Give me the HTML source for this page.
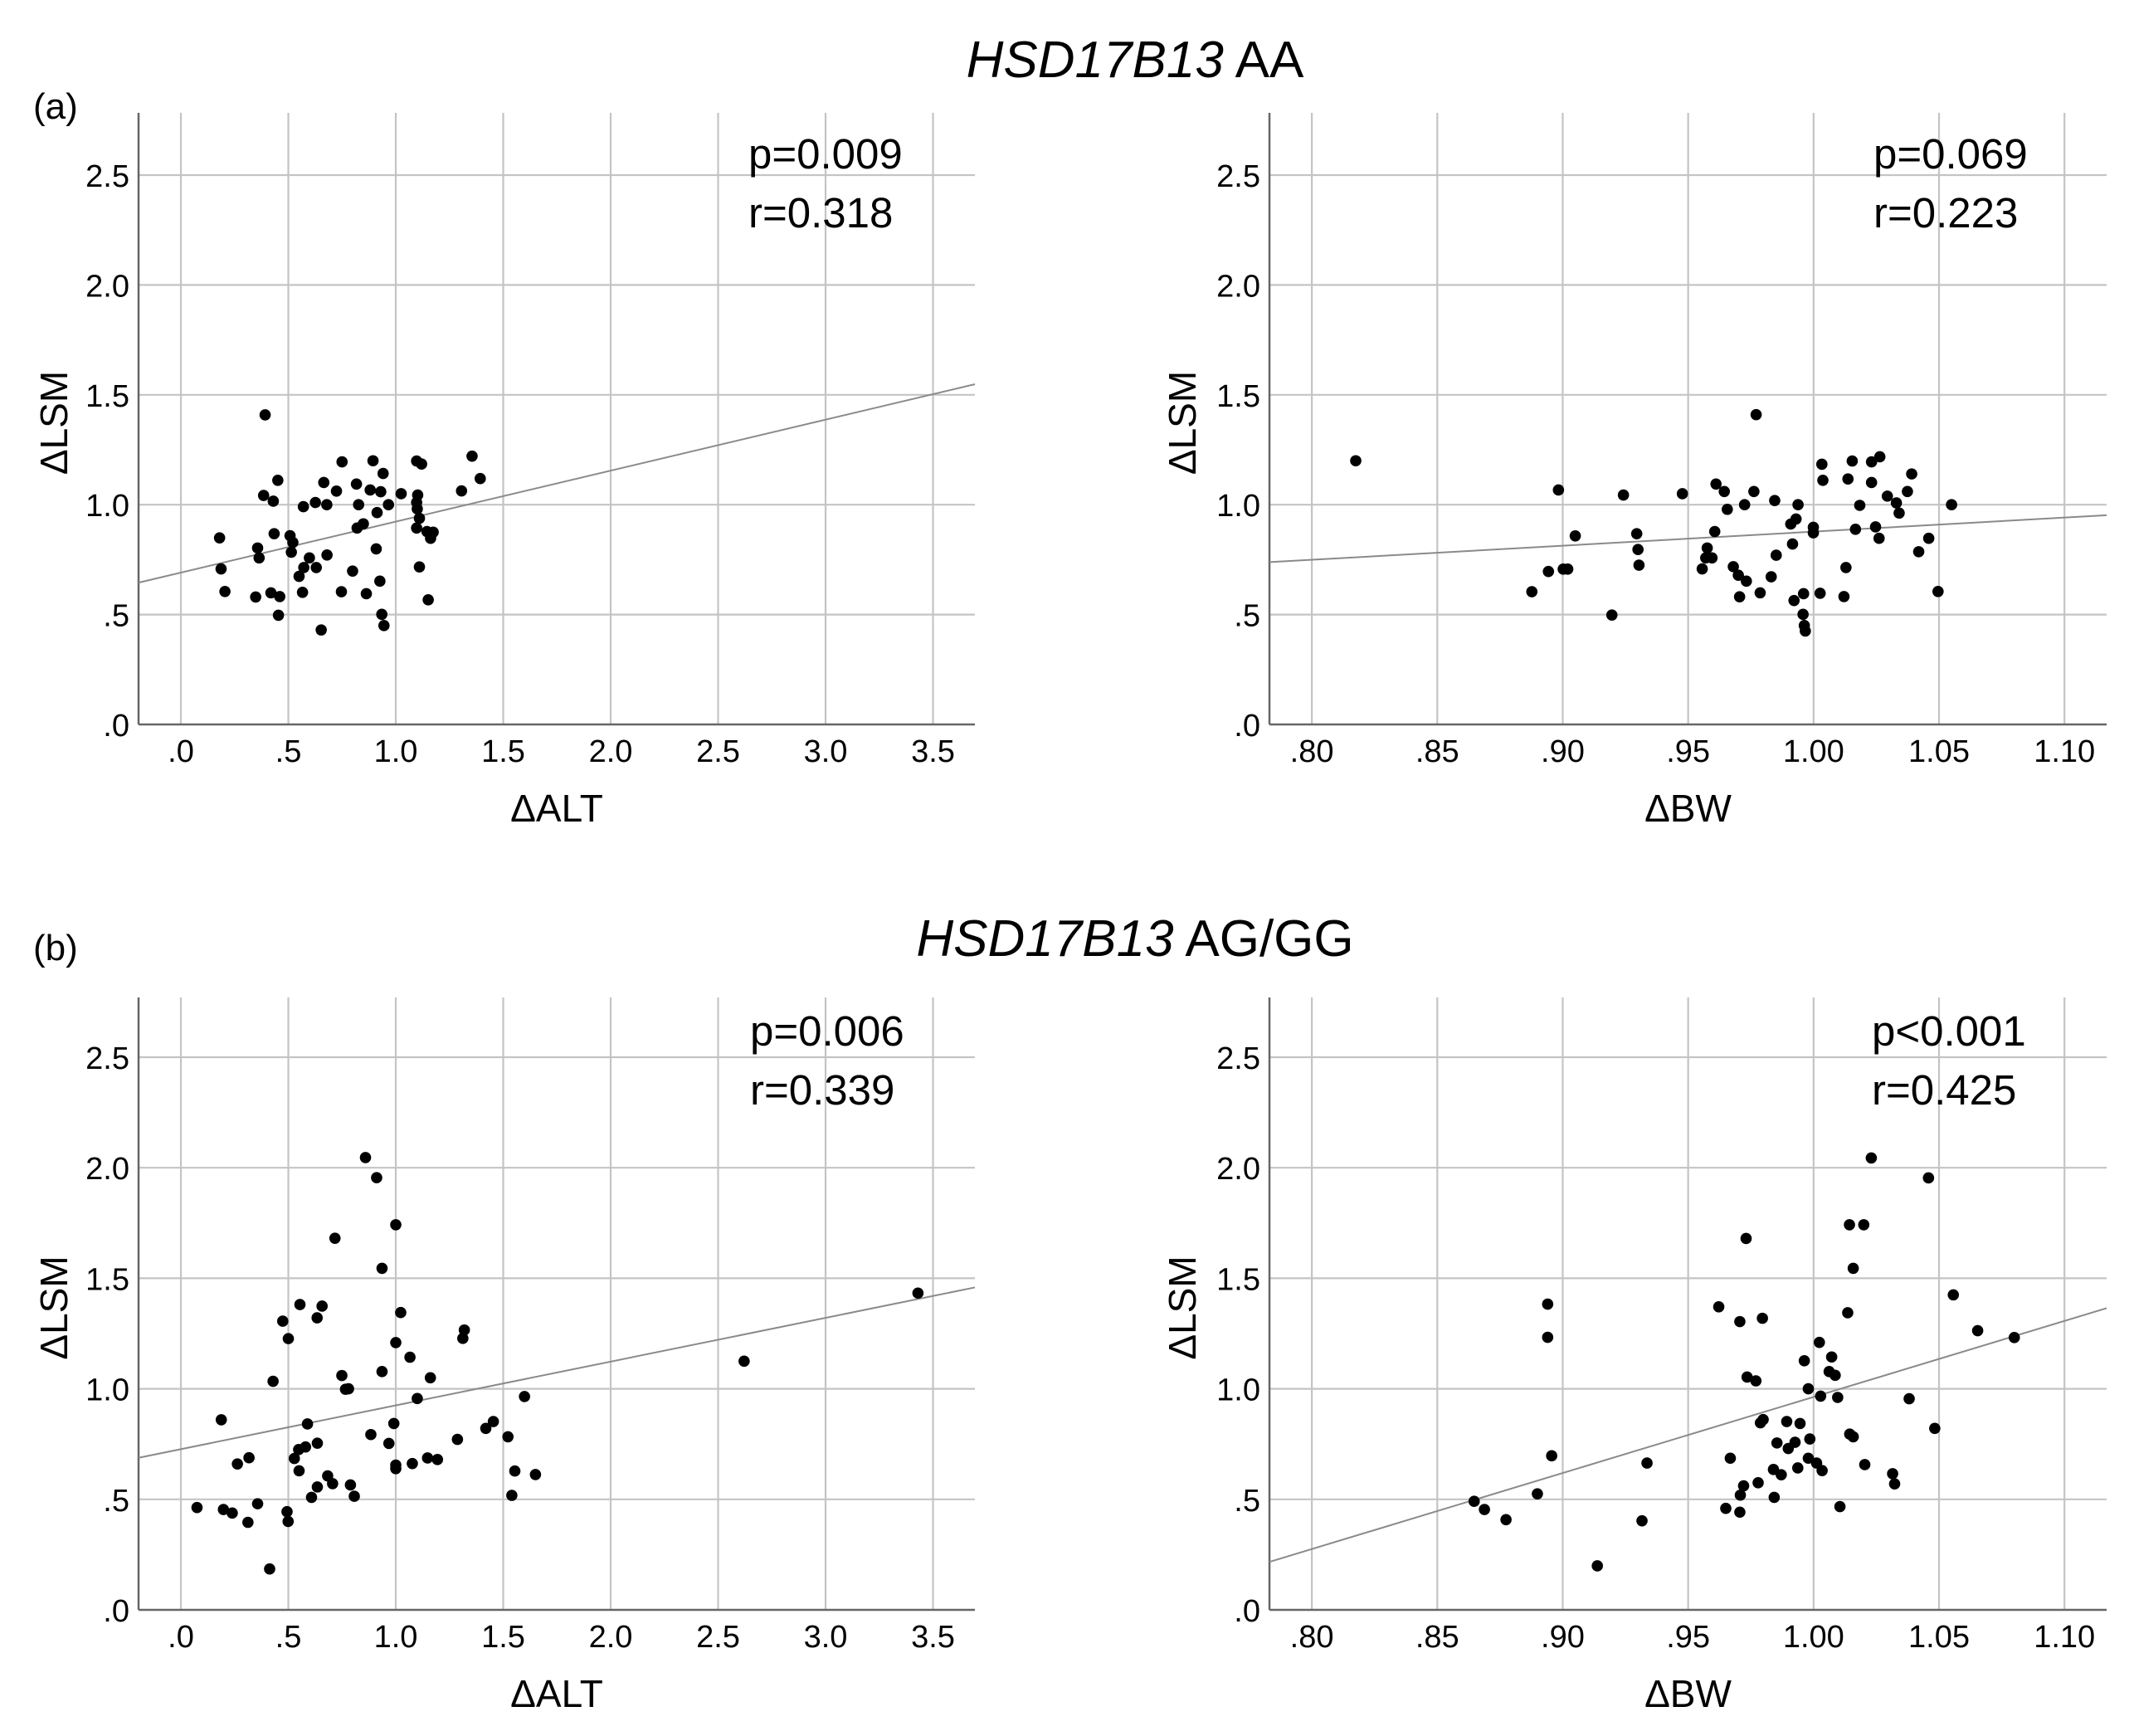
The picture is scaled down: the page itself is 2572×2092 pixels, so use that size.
<!DOCTYPE html>
<html>
<head>
<meta charset="utf-8">
<style>
html,body{margin:0;padding:0;background:#fff;}
svg{display:block;}
text{font-family:"Liberation Sans",Arial,sans-serif;fill:#000;}
</style>
</head>
<body>
<svg id="fig" xmlns="http://www.w3.org/2000/svg" width="2572" height="2092" viewBox="0 0 2572 2092">
  <rect x="0" y="0" width="2572" height="2092" fill="#fff"/>
  <text x="1368" y="93" font-size="62" text-anchor="middle"><tspan font-style="italic">HSD17B13</tspan> AA</text>
  <text x="1368" y="1152" font-size="62" text-anchor="middle"><tspan font-style="italic">HSD17B13</tspan> AG/GG</text>
  <text x="40" y="143" font-size="44">(a)</text>
  <text x="40" y="1157" font-size="44">(b)</text>
</svg>
<script>
// ---------- DATA ----------
const aAltX = [0.392,0.451,0.385,0.430,0.180,0.434,0.357,0.364,0.187,0.205,0.348,0.419,0.460,0.454,0.508,0.521,0.514,0.570,0.626,0.665,0.679,0.750,0.724,0.817,0.827,0.894,0.941,0.881,0.930,0.966,0.913,0.820,0.849,1.025,1.097,1.120,1.102,1.097,1.100,1.110,1.097,1.145,1.174,1.162,1.110,1.151,1.306,1.355,1.393,0.598,0.572,0.550,0.630,0.680,0.799,0.909,0.926,0.566,0.747,0.863,0.935,0.945,0.653];
const aAltY = [1.409,1.111,1.042,1.016,0.849,0.868,0.803,0.758,0.708,0.605,0.580,0.599,0.582,0.497,0.859,0.828,0.784,0.991,1.010,1.101,1.000,1.195,1.062,1.094,1.000,1.200,1.142,1.067,1.059,1.000,0.964,0.894,0.913,1.050,1.199,1.185,1.044,1.010,0.981,0.938,0.894,0.878,0.875,0.847,0.717,0.567,1.063,1.221,1.119,0.758,0.714,0.674,0.714,0.771,0.698,0.799,0.652,0.601,0.604,0.595,0.501,0.450,0.430];
const aBwX = [0.8175,0.8877,0.8943,0.8983,0.9002,0.902,0.905,0.9196,0.9242,0.9295,0.930,0.9304,0.9477,0.9611,0.9644,0.9656,0.9606,0.9576,0.957,0.9595,0.9556,0.968,0.970,0.9732,0.9705,0.9771,0.9762,0.9725,0.9787,0.9831,0.9851,0.9845,0.9938,0.9930,0.9909,0.9916,0.996,0.9922,0.9958,0.9963,0.9967,0.9999,0.9999,1.0026,1.0033,1.0037,1.0121,1.0129,1.0137,1.0154,1.0167,1.0184,1.0231,1.0264,1.0231,1.0247,1.0261,1.0294,1.0330,1.0341,1.0391,1.0374,1.0459,1.0419,1.0496,1.055];
const aBwY = [1.20,0.604,0.696,1.067,0.707,0.707,0.858,0.498,1.044,0.868,0.796,0.725,1.050,1.094,1.060,0.979,0.878,0.803,0.758,0.758,0.708,0.718,0.679,0.652,0.581,1.410,1.060,1.000,0.599,0.672,0.770,1.019,1.000,0.935,0.912,0.821,0.595,0.564,0.501,0.450,0.425,0.897,0.872,0.597,1.184,1.111,0.582,0.714,1.117,1.199,0.888,0.997,1.195,1.218,1.101,0.899,0.847,1.039,1.008,0.962,1.140,1.060,0.847,0.786,0.605,1.000];
const bAltX = [0.859,0.911,1.000,0.936,1.023,1.319,1.312,1.000,1.066,0.936,1.161,0.780,1.100,1.599,0.991,0.884,0.968,1.454,1.419,1.287,1.522,1.000,1.000,1.077,1.148,1.194,1.554,1.650,1.540,0.789,0.807,2.621,3.430,0.717,0.554,0.657,0.634,0.474,0.500,0.429,0.749,0.766,0.188,0.589,0.635,0.580,0.548,0.317,0.263,0.528,0.550,0.683,0.706,0.635,0.608,0.075,0.198,0.239,0.312,0.357,0.494,0.499,0.413];
const bAltY = [2.046,1.955,1.742,1.545,1.345,1.266,1.228,1.209,1.143,1.078,1.050,1.000,0.956,0.965,0.843,0.793,0.753,0.852,0.821,0.771,0.783,0.655,0.639,0.662,0.687,0.680,0.628,0.612,0.518,0.565,0.514,1.125,1.433,1.681,1.381,1.374,1.321,1.306,1.227,1.034,1.060,0.998,0.860,0.841,0.754,0.737,0.725,0.688,0.660,0.685,0.629,0.606,0.571,0.556,0.509,0.463,0.454,0.438,0.396,0.480,0.444,0.400,0.185];
const bBwX = [0.8647,0.8688,0.8774,0.8899,0.894,0.894,0.8956,0.9138,1.0230,1.0458,1.0143,1.0200,0.9731,1.0158,1.0557,0.9622,1.0136,0.9706,0.9796,1.0654,1.0023,1.0072,0.9963,1.0062,1.0086,0.9735,0.9770,0.9979,1.0028,1.0096,1.0381,0.9799,0.9788,0.9893,0.9946,1.0483,1.0144,1.0158,0.9985,0.9854,0.9926,0.9899,0.9336,0.9668,0.9979,1.0012,1.0034,0.9937,0.9840,0.9871,1.0204,1.0315,1.0323,0.9779,0.9721,0.9708,0.9843,0.9650,0.9706,1.0105,0.9316,1.080];
const bBwY = [0.491,0.454,0.408,0.525,1.383,1.233,0.697,0.199,2.044,1.954,1.742,1.742,1.680,1.545,1.425,1.371,1.344,1.304,1.319,1.263,1.210,1.144,1.127,1.078,1.061,1.053,1.036,1.000,0.967,0.961,0.955,0.861,0.846,0.852,0.843,0.821,0.795,0.783,0.773,0.755,0.758,0.730,0.664,0.686,0.686,0.664,0.630,0.642,0.635,0.611,0.657,0.616,0.570,0.575,0.561,0.519,0.509,0.459,0.442,0.467,0.403,1.232];
const fitIntercepts = [0.691, 0.80, 0.727, 0.638];
const fitSlopes = [0.232, 0.64, 0.198, 3.44];
const fitPivots = [0, 0.879, 0, 0.9055];
const altTicks = [0,0.5,1.0,1.5,2.0,2.5,3.0,3.5];
const altTickLabels = [".0",".5","1.0","1.5","2.0","2.5","3.0","3.5"];
const bwTicks = [0.80,0.85,0.90,0.95,1.00,1.05,1.10];
const bwTickLabels = [".80",".85",".90",".95","1.00","1.05","1.10"];
const lsmTicks = [0,0.5,1.0,1.5,2.0,2.5];
const lsmTickLabels = [".0",".5","1.0","1.5","2.0","2.5"];
const statP = ["p=0.009","p=0.069","p=0.006","p<0.001"];
const statR = ["r=0.318","r=0.223","r=0.339","r=0.425"];

// ---------- LAYOUT ----------
const NS = "http://www.w3.org/2000/svg";
const svg = document.getElementById('fig');
const panels = [
  {id:'a-alt', left:167, right:1175, top:136, bottom:873, xmin:-0.197, xmax:3.695, xs:aAltX, ys:aAltY, ticks:altTicks, tl:altTickLabels, xtitle:'\u0394ALT', yTitleX:64, statX:902},
  {id:'a-bw', left:1530, right:2539, top:136, bottom:873, xmin:0.7831, xmax:1.1168, xs:aBwX, ys:aBwY, ticks:bwTicks, tl:bwTickLabels, xtitle:'\u0394BW', yTitleX:1424, statX:2258},
  {id:'b-alt', left:167, right:1175, top:1202, bottom:1940, xmin:-0.197, xmax:3.695, xs:bAltX, ys:bAltY, ticks:altTicks, tl:altTickLabels, xtitle:'\u0394ALT', yTitleX:64, statX:904},
  {id:'b-bw', left:1530, right:2539, top:1202, bottom:1940, xmin:0.7831, xmax:1.1168, xs:bBwX, ys:bBwY, ticks:bwTicks, tl:bwTickLabels, xtitle:'\u0394BW', yTitleX:1424, statX:2256}
];
const Y2_5 = [211, 1274];

function mk(tag, attrs, parent){
  const e = document.createElementNS(NS, tag);
  for (const k in attrs) e.setAttribute(k, attrs[k]);
  (parent||svg).appendChild(e);
  return e;
}

panels.forEach((p, i) => {
  const g = mk('g', {});
  
  
  const yTop = Y2_5[i < 2 ? 0 : 1];
  const yPerUnit = (p.bottom - yTop) / 2.5;
  const xScale = v => p.left + (v - p.xmin) / (p.xmax - p.xmin) * (p.right - p.left);
  const yScale = v => p.bottom - v * yPerUnit;

  lsmTicks.forEach((t, k) => {
    const y = yScale(t);
    if (t > 0) {
      const gl = mk('line', {x1:p.left, x2:p.right, y1:y, y2:y, stroke:'#c4c4c4', 'stroke-width':2.2}, g);
      
      
    }
    const tx = mk('text', {x:p.left - 11, y:y + 14, 'font-size':38, 'text-anchor':'end'}, g);
    
    
    tx.textContent = lsmTickLabels[k];
  });
  p.ticks.forEach((t, k) => {
    const x = xScale(t);
    const gl = mk('line', {x1:x, x2:x, y1:p.top, y2:p.bottom, stroke:'#c4c4c4', 'stroke-width':2.2}, g);
    
    
    const tx = mk('text', {x:x, y:p.bottom + 45, 'font-size':38, 'text-anchor':'middle'}, g);
    
    
    tx.textContent = p.tl[k];
  });
  const ax = mk('line', {x1:p.left, x2:p.right, y1:p.bottom, y2:p.bottom, stroke:'#666', 'stroke-width':2.5}, g);
  
  
  const ay = mk('line', {x1:p.left, x2:p.left, y1:p.top, y2:p.bottom, stroke:'#666', 'stroke-width':2.5}, g);
  
  

  const f = v => fitIntercepts[i] + fitSlopes[i] * (v - fitPivots[i]);
  const fl = mk('line', {x1:xScale(p.xmin), y1:yScale(f(p.xmin)), x2:xScale(p.xmax), y2:yScale(f(p.xmax)), stroke:'#8a8a8a', 'stroke-width':2}, g);
  
  

  p.xs.forEach((xv, k) => {
    const c = mk('circle', {cx:xScale(xv), cy:yScale(p.ys[k]), r:6.8, fill:'#000'}, g);
    
    
  });

  const xt = mk('text', {x:(p.left + p.right) / 2, y:p.bottom + 117, 'font-size':46, 'text-anchor':'middle'}, g);
  
  
  xt.textContent = p.xtitle;
  const cy = (p.top + p.bottom) / 2 + 5;
  const yt = mk('text', {x:0, y:0, 'font-size':46, 'text-anchor':'middle', transform:'translate(' + (p.yTitleX + 17) + ',' + cy + ') rotate(-90)'}, g);
  
  
  yt.textContent = '\u0394LSM';

  const sBase = i < 2 ? 203 : 1260;
  const sp = mk('text', {x:p.statX, y:sBase, 'font-size':51}, g);
  
  
  sp.textContent = statP[i];
  const sr = mk('text', {x:p.statX, y:sBase + 71, 'font-size':51}, g);
  
  
  sr.textContent = statR[i];
});
</script>
</body>
</html>
